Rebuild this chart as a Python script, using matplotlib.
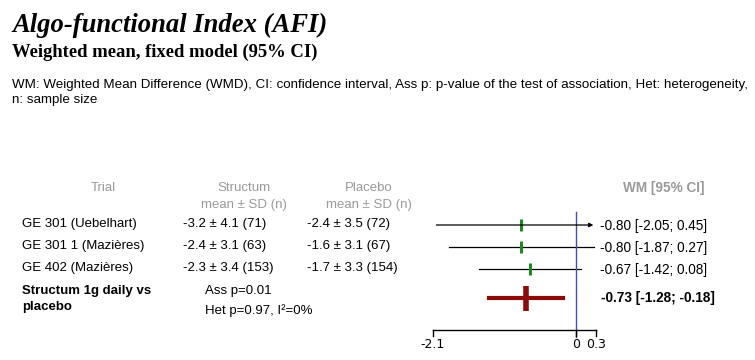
# forest plot: Algo-functional Index, structum vs placebo
import matplotlib
matplotlib.use("Agg")
from matplotlib import pyplot as plt
from matplotlib.transforms import Affine2D

# data
trials = ["GE 301 (Uebelhart)", "GE 301 1 (Mazières)", "GE 402 (Mazières)"]
structum = ["-3.2 ± 4.1 (71)", "-2.4 ± 3.1 (63)", "-2.3 ± 3.4 (153)"]
placebo = ["-2.4 ± 3.5 (72)", "-1.6 ± 3.1 (67)", "-1.7 ± 3.3 (154)"]
wm = [-0.80, -0.80, -0.67]
ci_low = [-2.05, -1.87, -1.42]
ci_high = [0.45, 0.27, 0.08]
pooled = -0.73
pooled_low = -1.28
pooled_high = -0.18
axis_ticks = [-2.1, 0, 0.3]

W, H = 755, 360
fig = plt.figure(figsize=(W / 100, H / 100), dpi=100)
ax = fig.add_axes([0, 0, 1, 1])
ax.axis("off")

# x: value -> pixel = 575.7 + 68*v ; y: pixels from top
x0, scale = 575.7, 68.0
ax.set_xlim(-x0 / scale, (W - x0) / scale)
ax.set_ylim(H, 0)

# pixel transform for the text (origin top-left)
px = Affine2D().scale(1 / W, -1 / H).translate(0, 1) + fig.transFigure

sans = "Liberation Sans"
grey = "#9a9a9a"
fs = 9.5

fig.text(12, 32, "Algo-functional Index (AFI)", transform=px, family="Liberation Serif",
         weight="bold", style="italic", fontsize=19.2)
fig.text(12, 57, "Weighted mean, fixed model (95% CI)", transform=px, family="Liberation Serif",
         weight="bold", fontsize=13.4)
fig.text(12, 88, "WM: Weighted Mean Difference (WMD), CI: confidence interval, Ass p: p-value of "
         "the test of association, Het: heterogeneity,", transform=px, family=sans, fontsize=9.6)
fig.text(12, 103, "n: sample size", transform=px, family=sans, fontsize=9.6)

# headers
fig.text(103, 191, "Trial", transform=px, family=sans, fontsize=fs, color=grey, ha="center")
fig.text(244, 191, "Structum", transform=px, family=sans, fontsize=fs, color=grey, ha="center")
fig.text(244, 208, "mean ± SD (n)", transform=px, family=sans, fontsize=fs, color=grey, ha="center")
fig.text(369, 191, "Placebo", transform=px, family=sans, fontsize=fs, color=grey, ha="center")
fig.text(369, 208, "mean ± SD (n)", transform=px, family=sans, fontsize=fs, color=grey, ha="center")
fig.text(664, 192, "WM [95% CI]", transform=px, family=sans, fontsize=9.8, color=grey,
         ha="center", weight="bold")

row_y = [225, 247, 269]
xmax = axis_ticks[-1]
for i in range(len(trials)):
    y = row_y[i]
    fig.text(22, y + 2, trials[i], transform=px, family=sans, fontsize=fs)
    fig.text(183, y + 2, structum[i], transform=px, family=sans, fontsize=fs)
    fig.text(307, y + 2, placebo[i], transform=px, family=sans, fontsize=fs)
    fig.text(600, y + 5, "%.2f [%.2f; %.2f]" % (wm[i], ci_low[i], ci_high[i]),
             transform=px, family=sans, fontsize=9.8)
    if ci_high[i] > xmax:
        ax.annotate("", xy=(xmax - 0.04, y), xytext=(ci_low[i], y),
                    arrowprops=dict(arrowstyle="-|>", lw=0.9, color="black",
                                    mutation_scale=6, shrinkA=0, shrinkB=0))
    else:
        ax.plot([ci_low[i], ci_high[i]], [y, y], color="black", lw=0.9)
    ax.plot([wm[i]], [y], marker="|", markersize=9, mew=2.2, color="#1f8a1f")

# pooled row
ys = 298
fig.text(22, 294, "Structum 1g daily vs", transform=px, family=sans, fontsize=fs, weight="bold")
fig.text(22, 310, "placebo", transform=px, family=sans, fontsize=fs, weight="bold")
fig.text(205, 294, "Ass p=0.01", transform=px, family=sans, fontsize=fs)
fig.text(205, 314, "Het p=0.97, I²=0%", transform=px, family=sans, fontsize=fs)
fig.text(601, ys + 4, "%.2f [%.2f; %.2f]" % (pooled, pooled_low, pooled_high),
         transform=px, family=sans, fontsize=9.8, weight="bold")
ax.plot([pooled_low, pooled_high], [ys, ys], color="#8b0a0a", lw=3)
ax.plot([pooled], [ys], marker="|", markersize=18, mew=4, color="#8b0a0a")

# zero line and scale
ax.plot([0, 0], [212, 337], color="#4b4bab", lw=1)
ax.plot([axis_ticks[0], axis_ticks[-1]], [330, 330], color="black", lw=1)
for t in axis_ticks:
    ax.plot([t, t], [330, 336], color="black", lw=1)
    ax.text(t, 348, "%g" % t, ha="center", family="DejaVu Sans", fontsize=9)

fig.savefig("out.png", dpi=100)
